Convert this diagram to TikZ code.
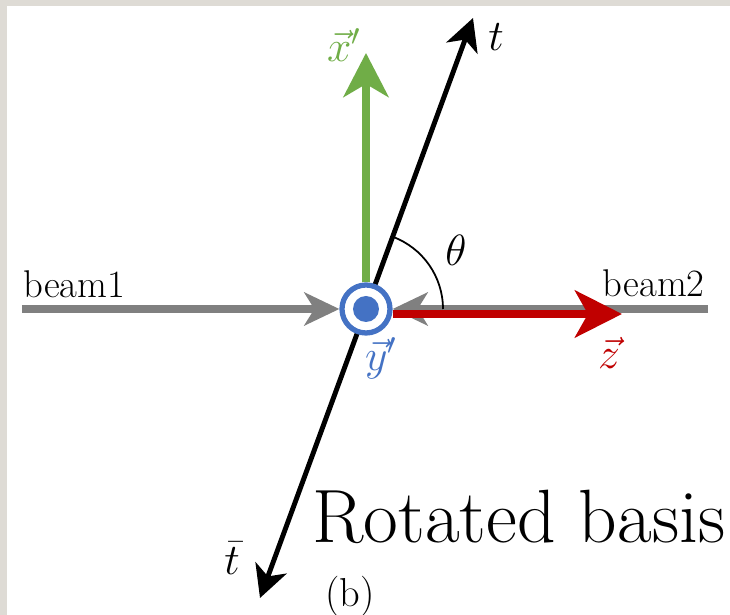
\documentclass[tikz,border=0pt]{standalone}
\usepackage{amsmath,amssymb}
\usepackage{xcolor}
\definecolor{rbgreen}{RGB}{112, 173, 71}
\definecolor{rbblue}{RGB}{68, 114, 196}
\definecolor{rbred}{RGB}{192, 0, 0}
\definecolor{rbgray}{RGB}{128, 128, 128}
\definecolor{rbpaper}{RGB}{222, 219, 213}
\usetikzlibrary{arrows.meta, calc}

\begin{document}
\begin{tikzpicture}[>=Stealth,
    lbl/.style={inner sep=1pt, font=\fontsize{24}{28}\selectfont},
    beamlbl/.style={inner sep=0pt, font=\fontsize{22}{26}\selectfont},
    beam/.style={rbgray, line width=4pt,
        -{Stealth[length=0.7cm, width=0.66cm, inset=0.2cm]}}]

% === Marco ===
\useasboundingbox (-7.32, -6.12) rectangle (7.28, 6.18);
\fill[rbpaper] (-7.32, -6.12) rectangle (7.28, 6.18);
\fill[white] (-7.18, -6.12) rectangle (7.28, 6.06);

% === Coordenadas ===
\coordinate (o) at (0, 0);
\coordinate (b1) at (-6.88, 0);
\coordinate (b2) at (6.84, 0);
\coordinate (ttip) at (2.14, 5.82);
\coordinate (tbar) at (-2.12, -5.78);
\coordinate (xtip) at (0, 5.12);
\coordinate (ztip) at (5.12, -0.1);

% === Eje t ===
\draw[line width=2.8pt,
    {Stealth[length=0.64cm, width=0.66cm, inset=0.18cm]}-{Stealth[length=0.64cm, width=0.66cm, inset=0.18cm]}]
    (tbar) -- (ttip);

% === Vector y' (saliendo del plano) ===
\node[circle, draw=rbblue, line width=3pt, fill=white,
    minimum size=0.96cm, inner sep=0pt] (yp) at (o) {};
\fill[rbblue] (yp.center) circle (0.26);

% === Haces ===
\draw[beam] (b1) -- (yp.west);
\draw[beam] (b2) -- (yp.east);

% === Vector z ===
\draw[rbred, line width=4.5pt,
    -{Stealth[length=0.94cm, width=0.94cm, inset=0.26cm]}]
    (yp.east |- ztip) -- (ztip);

% === Vector x' ===
\draw[rbgreen, line width=4.5pt,
    -{Stealth[length=0.88cm, width=0.9cm, inset=0.26cm]}]
    (yp.north) -- (xtip);

% Angulo theta
\draw[line width=1pt] ($(o) + (0:1.54)$) arc[start angle=0, end angle=69.8, radius=1.54];

% === Etiquetas ===
\node[lbl] (tl) at (2.6, 5.44) {$t$};
\node[lbl] (tbl) at (-2.68, -4.98) {$\bar{t}$};
\node[lbl] (thl) at (1.8, 1.18) {$\theta$};
\node[lbl, text=rbgreen] (xl) at (-0.44, 5.28) {$\vec{x}'$};
\node[lbl, text=rbblue] (yl) at (0.3, -0.98) {$\vec{y}'$};
\node[lbl, text=rbred] (zl) at (4.86, -0.88) {$\vec{z}$};

\node[beamlbl, anchor=base west] (b1l) at (-6.86, 0.22) {beam1};
\node[beamlbl, anchor=base east] (b2l) at (6.78, 0.24) {beam2};

\node[inner sep=0pt, anchor=base west, font=\fontsize{43}{50}\selectfont]
    (title) at (-1.08, -4.68) {Rotated basis};
\node[inner sep=0pt, font=\fontsize{23}{27}\selectfont] (sub) at (-0.32, -5.74) {(b)};

\end{tikzpicture}
\end{document}
